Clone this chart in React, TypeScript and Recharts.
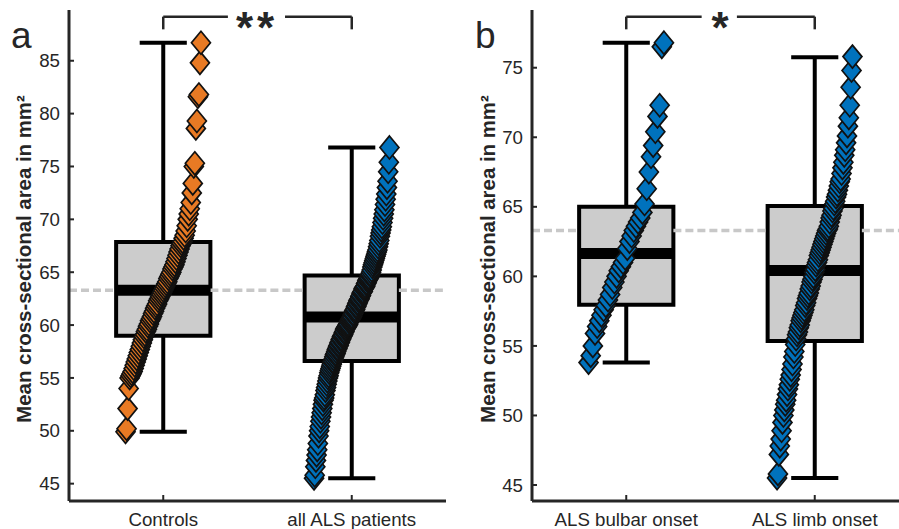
import React from 'react';
import { ComposedChart, XAxis, YAxis, Scatter, ReferenceArea, ReferenceLine } from 'recharts';

const groupsA = ['Controls', 'all ALS patients'];
const groupsB = ['ALS bulbar onset', 'ALS limb onset'];

const controls = [
  49.9, 50.2, 52.1, 54.0, 55.0,
  55.2, 55.4, 55.6, 55.9, 56.2, 56.5, 56.8, 57.1, 57.4, 57.7, 58.0, 58.3, 58.6, 58.9,
  59.1, 59.4, 59.6, 59.9, 60.1, 60.4, 60.6, 60.8, 61.1, 61.3, 61.6, 61.8, 62.0, 62.3, 62.5, 62.7, 62.9, 63.1,
  63.3,
  63.5, 63.7, 63.9, 64.1, 64.4, 64.6, 64.8, 65.0, 65.3, 65.5, 65.7, 66.0, 66.3, 66.6, 66.9, 67.2, 67.5, 67.7,
  67.9, 68.2, 68.5,
  68.9, 69.4, 70.0, 70.5, 71.0, 71.6, 72.5, 73.4, 75.0, 75.3, 78.6, 79.3, 81.6, 81.8, 84.8, 86.7,
];

const allALS = [
  45.5, 45.8, 46.6, 47.2, 47.7, 48.2, 48.8, 49.5, 50.0, 50.4,
  50.9, 51.3, 51.7, 52.1, 52.5, 52.9, 53.1, 53.4, 53.8, 54.1,
  54.4, 54.7, 55.0, 55.2, 55.5, 55.7, 55.9, 56.1, 56.3, 56.5,
  56.6, 56.8, 57.0, 57.2, 57.3, 57.5, 57.7, 57.8, 58.0, 58.1,
  58.3, 58.4, 58.6, 58.7, 58.9, 59.0, 59.1, 59.3, 59.4, 59.6,
  59.7, 59.8, 59.9, 60.0, 60.1, 60.3, 60.4, 60.5, 60.6, 60.7,
  60.8, 61.0, 61.1, 61.3, 61.4, 61.5, 61.7, 61.8, 62.0, 62.1,
  62.3, 62.4, 62.5, 62.7, 62.8, 63.0, 63.1, 63.2, 63.4, 63.5,
  63.6, 63.7, 63.9, 64.0, 64.2, 64.3, 64.4, 64.5, 64.7, 64.8,
  65.0, 65.2, 65.5, 65.7, 65.9, 66.1, 66.3, 66.5, 66.7, 66.9,
  67.1, 67.4, 67.7, 68.0, 68.4, 68.7, 69.0, 69.3, 69.7, 70.1,
  70.5, 70.9, 71.4, 71.9, 72.4, 73.0, 73.6, 74.5, 75.4, 76.8,
];

const bulbar = [
  53.8, 54.3, 55.0, 55.9, 56.4, 56.8, 57.2, 57.6, 57.9, 58.3, 58.7, 59.2,
  59.6, 60.0, 60.4, 60.7, 61.0, 61.3, 62.0, 62.5, 62.9, 63.3, 63.6, 63.9,
  64.2, 64.6, 65.2, 66.3, 67.5, 68.6, 69.4, 70.4, 71.5, 72.3, 76.5, 76.8,
];

const limb = [
  45.5, 45.8, 47.2, 47.8, 48.3, 48.9, 49.5, 50.0, 50.4, 50.8,
  51.1, 51.5, 51.9, 52.2, 52.6, 52.9, 53.3, 53.7, 54.2, 54.6,
  55.1, 55.5, 55.8, 56.0, 56.3, 56.5, 56.8, 57.0, 57.2, 57.4,
  57.6, 57.9, 58.1, 58.4, 58.6, 58.8, 59.1, 59.3, 59.6, 59.8,
  60.0, 60.3, 60.5, 60.8, 61.0, 61.2, 61.5, 61.7, 61.9, 62.1,
  62.3, 62.5, 62.7, 62.9, 63.1, 63.3, 63.4, 63.6, 63.9, 64.2,
  64.4, 64.7, 64.9, 65.2, 65.4, 65.7, 65.9, 66.2, 66.5, 66.8,
  67.0, 67.4, 67.8, 68.2, 68.7, 69.1, 69.6, 70.1, 70.8, 71.4,
  72.3, 73.6, 74.8, 75.8,
];

// box statistics per group
const q1A = [59.0, 56.6];
const medA = [63.3, 60.76];
const q3A = [67.85, 64.7];
const loA = [49.9, 45.5];
const hiA = [86.7, 76.8];

const q1B = [57.96, 55.36];
const medB = [61.65, 60.43];
const q3B = [65.0, 65.05];
const loB = [53.8, 45.5];
const hiB = [76.8, 75.75];

const controlMean = 63.3;
const ticksA = [45, 50, 55, 60, 65, 70, 75, 80, 85];
const ticksB = [45, 50, 55, 60, 65, 70, 75];
const stars = ['**', '*'];

const ORANGE = '#E87A24';
const BLUE = '#0072BD';
const INK = '#262626';
const FONT = '"Liberation Sans", Arial, sans-serif';

const Diamond = ({ cx, cy, color }: any) => {
  if (cx == null || cy == null) return null;
  const w = 9.5;
  const h = 11.5;
  return (
    <path
      d={`M${cx},${cy - h}L${cx + w},${cy}L${cx},${cy + h}L${cx - w},${cy}Z`}
      fill={color}
      stroke="#111"
      strokeWidth={1.7}
    />
  );
};

// spread the sorted points across the category (rank -> x offset)
const spread = (vals: number[], cat: number) =>
  vals.map((v, i) => ({ x: cat - 0.2 + (0.4 * i) / (vals.length - 1), y: v }));

interface PanelProps {
  names: string[];
  series: number[][];
  colors: string[];
  q1: number[];
  med: number[];
  q3: number[];
  lo: number[];
  hi: number[];
  domain: [number, number];
  ticks: number[];
  width: number;
  yAxisWidth: number;
  bracket: { top: number; bottom: number; gap: [number, number] };
}

const BoxPanel: React.FC<PanelProps> = (p) => {
  const plotW = 377;
  const bw = 0.25;
  const cap = 0.125;
  return (
    <ComposedChart
      width={p.width}
      height={529}
      margin={{ top: 10, right: p.width - p.yAxisWidth - plotW, left: 0, bottom: 0 }}
    >
      <XAxis
        dataKey="x"
        type="number"
        domain={[0.5, 2.5]}
        ticks={[1, 2]}
        interval={0}
        allowDataOverflow
        height={28}
        tickFormatter={(v: number) => p.names[v - 1] ?? ''}
        tick={{ fill: INK, fontSize: 18.7, fontFamily: FONT }}
        tickSize={-6}
        tickMargin={18}
        axisLine={{ stroke: INK, strokeWidth: 3 }}
        tickLine={{ stroke: INK, strokeWidth: 2 }}
      />
      <YAxis
        dataKey="y"
        type="number"
        domain={p.domain}
        ticks={p.ticks}
        interval={0}
        allowDataOverflow
        width={p.yAxisWidth}
        tick={{ fill: INK, fontSize: 18.7, fontFamily: FONT }}
        tickSize={-5}
        tickMargin={14}
        axisLine={{ stroke: INK, strokeWidth: 3 }}
        tickLine={{ stroke: INK, strokeWidth: 2 }}
      />

      {/* dashed control mean, broken around the boxes */}
      {[[0.5, 1 - bw], [1 + bw, 2 - bw], [2 + bw, 2.5]].map(([a, b], i) => (
        <ReferenceLine
          key={`mean-${i}`}
          segment={[{ x: a, y: controlMean }, { x: b, y: controlMean }]}
          stroke="#c8c8c8"
          strokeWidth={3.5}
          strokeDasharray="8 4"
        />
      ))}

      {p.names.map((_, i) => {
        const c = i + 1;
        return (
          <React.Fragment key={`w-${i}`}>
            <ReferenceLine segment={[{ x: c, y: p.q3[i] }, { x: c, y: p.hi[i] }]} stroke="#000" strokeWidth={4} />
            <ReferenceLine segment={[{ x: c, y: p.lo[i] }, { x: c, y: p.q1[i] }]} stroke="#000" strokeWidth={4} />
            <ReferenceLine segment={[{ x: c - cap, y: p.hi[i] }, { x: c + cap, y: p.hi[i] }]} stroke="#000" strokeWidth={4} />
            <ReferenceLine segment={[{ x: c - cap, y: p.lo[i] }, { x: c + cap, y: p.lo[i] }]} stroke="#000" strokeWidth={4} />
          </React.Fragment>
        );
      })}

      {p.names.map((_, i) => (
        <ReferenceArea
          key={`box-${i}`}
          x1={i + 1 - bw}
          x2={i + 1 + bw}
          y1={p.q1[i]}
          y2={p.q3[i]}
          fill="#cccccc"
          fillOpacity={1}
          stroke="#000"
          strokeWidth={4}
        />
      ))}

      {p.names.map((_, i) => (
        <ReferenceLine
          key={`med-${i}`}
          segment={[{ x: i + 1 - bw, y: p.med[i] }, { x: i + 1 + bw, y: p.med[i] }]}
          stroke="#000"
          strokeWidth={11}
        />
      ))}

      {/* significance bracket */}
      <ReferenceLine segment={[{ x: 1, y: p.bracket.top }, { x: p.bracket.gap[0], y: p.bracket.top }]} stroke={INK} strokeWidth={2.5} />
      <ReferenceLine segment={[{ x: p.bracket.gap[1], y: p.bracket.top }, { x: 2, y: p.bracket.top }]} stroke={INK} strokeWidth={2.5} />
      <ReferenceLine segment={[{ x: 1, y: p.bracket.top }, { x: 1, y: p.bracket.bottom }]} stroke={INK} strokeWidth={2.5} />
      <ReferenceLine segment={[{ x: 2, y: p.bracket.top }, { x: 2, y: p.bracket.bottom }]} stroke={INK} strokeWidth={2.5} />

      {p.series.map((vals, i) => (
        <Scatter
          key={`pts-${i}`}
          data={spread(vals, i + 1)}
          dataKey="y"
          isAnimationActive={false}
          shape={(props: any) => <Diamond {...props} color={p.colors[i]} />}
        />
      ))}
    </ComposedChart>
  );
};

const yLabel = 'Mean cross-sectional area in mm²';

export default function App() {
  return (
    <div style={{ position: 'absolute', left: 0, top: 0, width: 899, height: 529, overflow: 'hidden', background: '#fff' }}>
      <div style={{ position: 'absolute', left: 0, top: 0 }}>
        <BoxPanel
          names={groupsA}
          series={[controls, allALS]}
          colors={[ORANGE, BLUE]}
          q1={q1A}
          med={medA}
          q3={q3A}
          lo={loA}
          hi={hiA}
          domain={[43.36, 89.8]}
          ticks={ticksA}
          width={450}
          yAxisWidth={69}
          bracket={{ top: 89.17, bottom: 87.97, gap: [1.343, 1.646] }}
        />
      </div>
      <div style={{ position: 'absolute', left: 450, top: 0 }}>
        <BoxPanel
          names={groupsB}
          series={[bulbar, limb]}
          colors={[BLUE, BLUE]}
          q1={q1B}
          med={medB}
          q3={q3B}
          lo={loB}
          hi={hiB}
          domain={[43.85, 79.15]}
          ticks={ticksB}
          width={459}
          yAxisWidth={82}
          bracket={{ top: 78.67, bottom: 77.76, gap: [1.4, 1.587] }}
        />
      </div>
      <svg width={899} height={529} style={{ position: 'absolute', left: 0, top: 0, pointerEvents: 'none' }}>
        <text x={11} y={48} fontSize={37} fill={INK} fontFamily={FONT}>a</text>
        <text x={475} y={48} fontSize={37} fill={INK} fontFamily={FONT}>b</text>
        <text x={31} y={259} transform="rotate(-90 31 259)" textAnchor="middle" fontSize={20.4} fontWeight="bold" fill={INK} fontFamily={FONT}>{yLabel}</text>
        <text x={495} y={259} transform="rotate(-90 495 259)" textAnchor="middle" fontSize={20.4} fontWeight="bold" fill={INK} fontFamily={FONT}>{yLabel}</text>
        <text x={257} y={43} textAnchor="middle" fontSize={44} fontWeight="bold" letterSpacing={4} fill={INK} fontFamily={FONT}>{stars[0]}</text>
        <text x={720} y={43} textAnchor="middle" fontSize={44} fontWeight="bold" fill={INK} fontFamily={FONT}>{stars[1]}</text>
      </svg>
    </div>
  );
}
